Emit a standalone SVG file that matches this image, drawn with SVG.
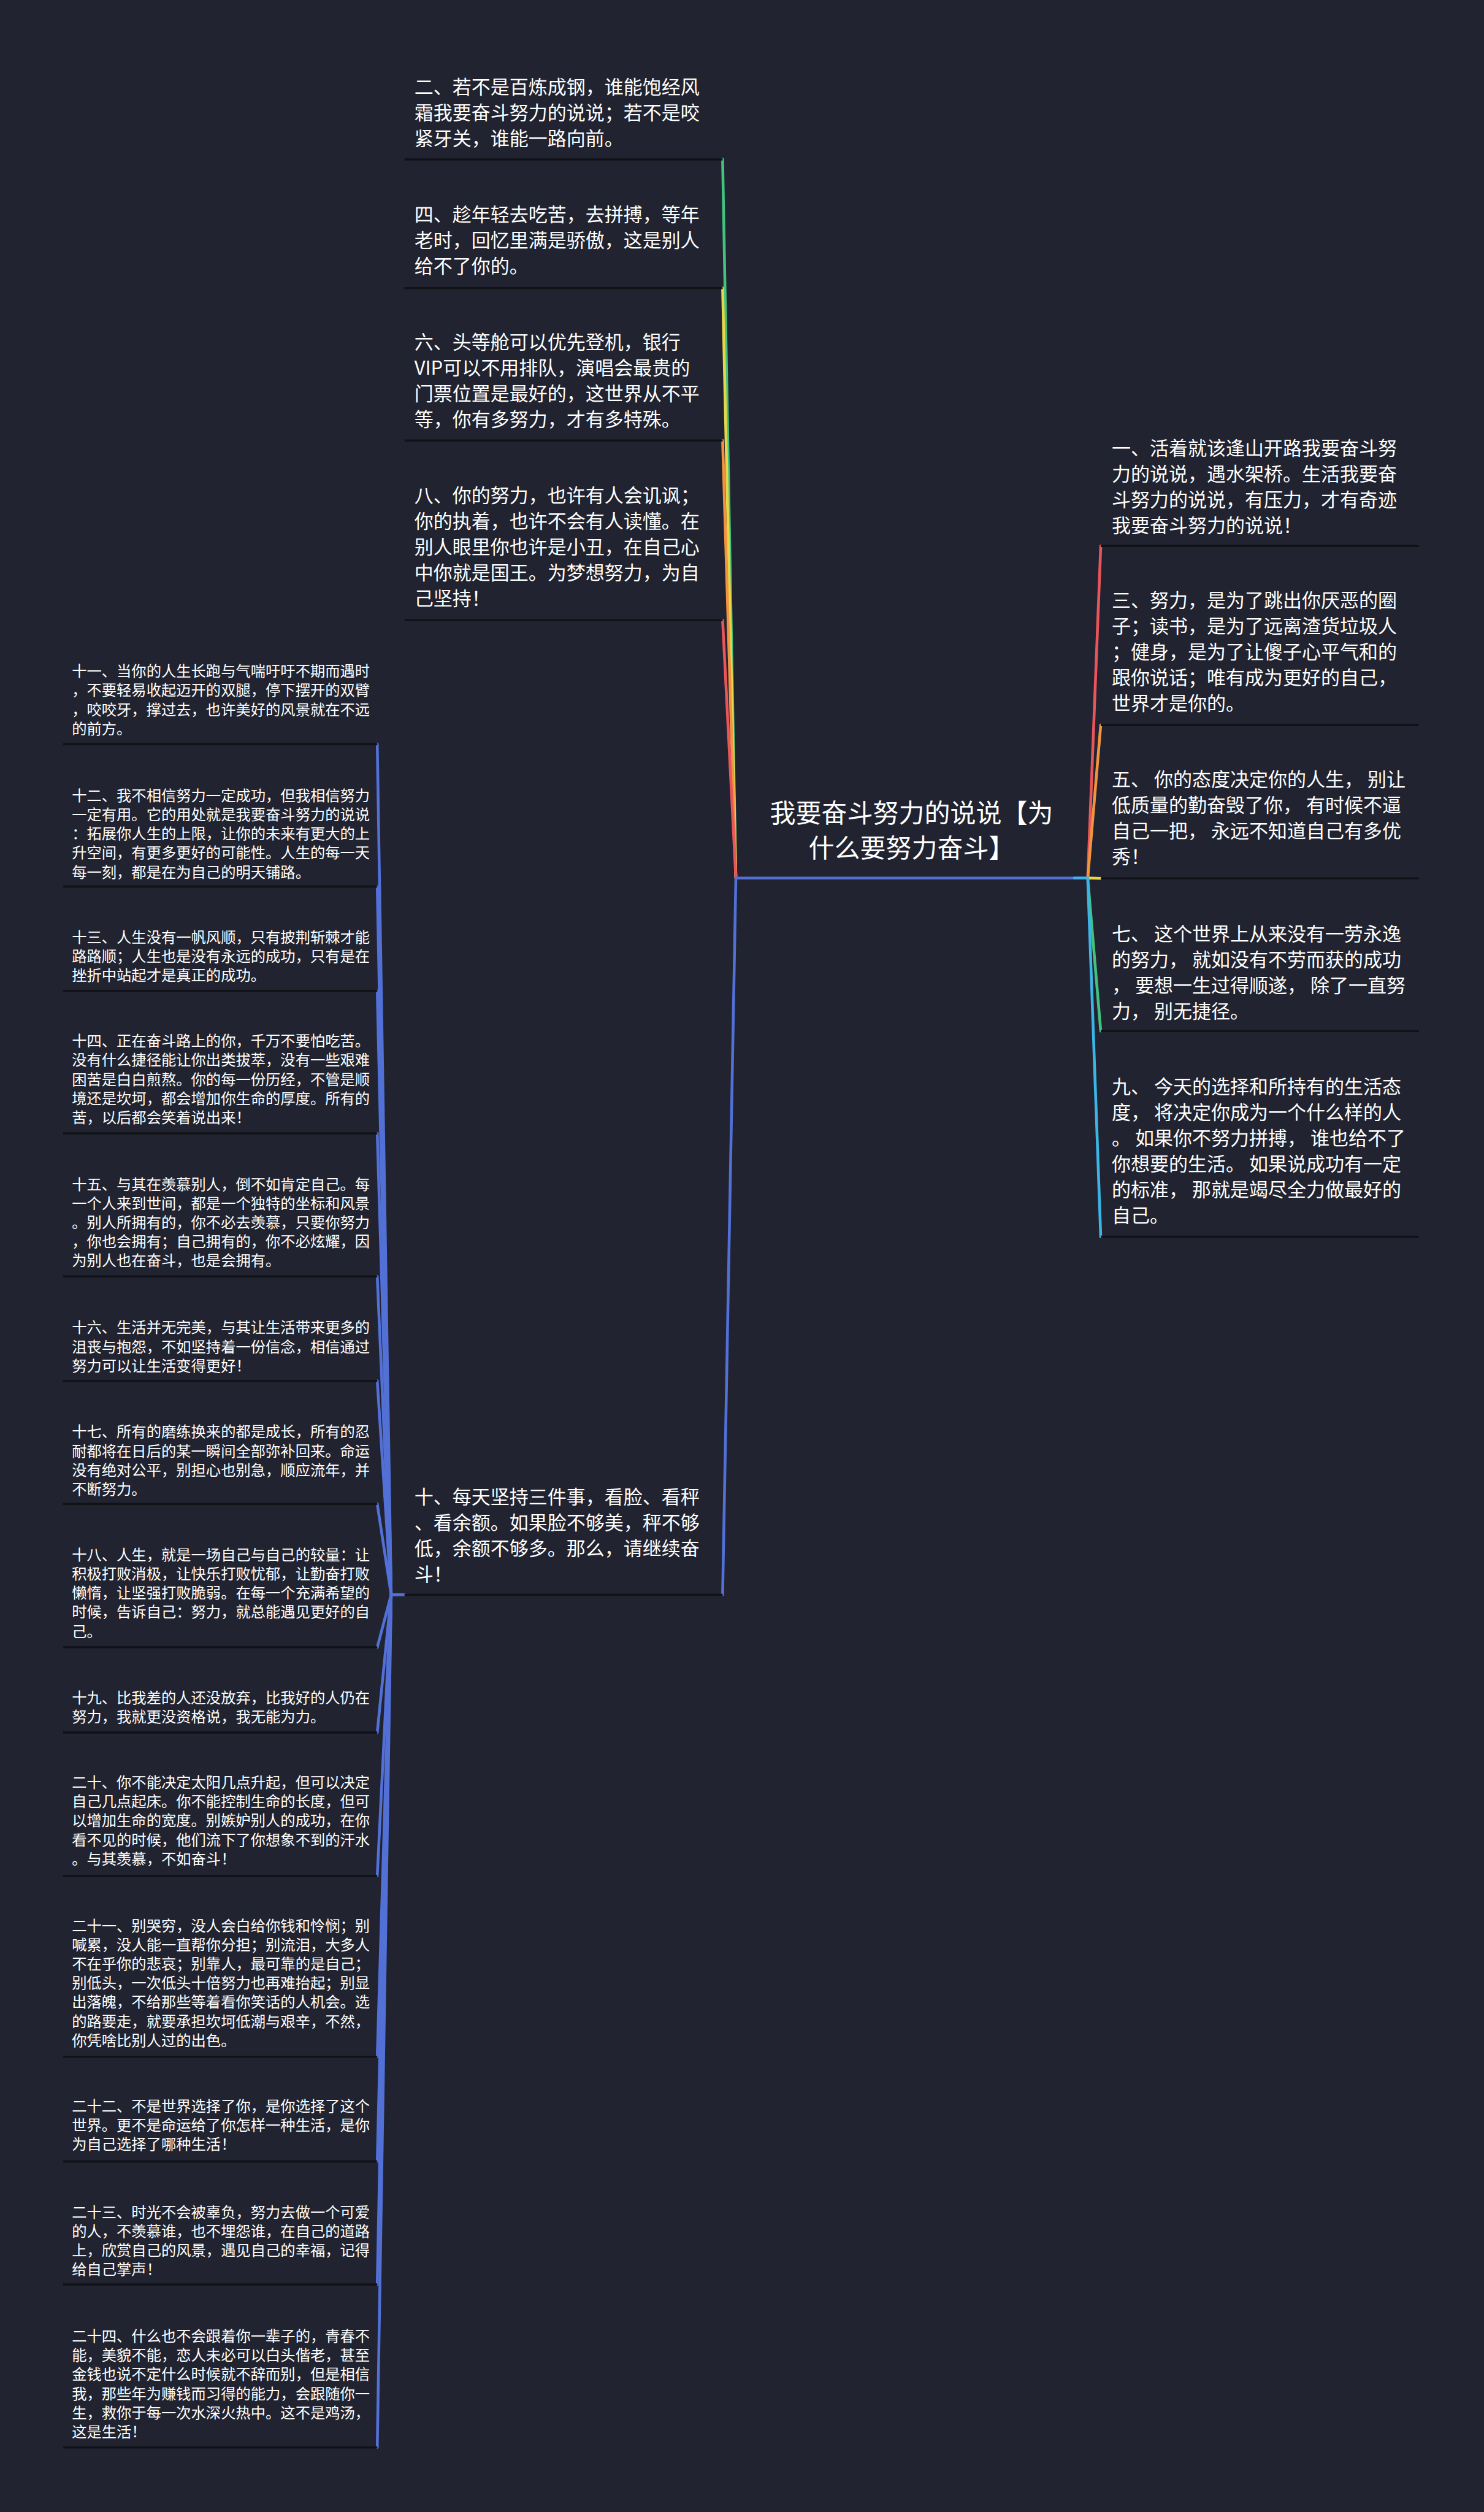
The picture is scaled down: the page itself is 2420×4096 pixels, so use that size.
<svg xmlns="http://www.w3.org/2000/svg" width="2420" height="4096" viewBox="0 0 2420 4096">
<style>
text{font-family:"Noto Sans CJK SC","Noto Sans",sans-serif;fill:#ffffff}
.r{font-size:42px}
.m{font-size:31px}
.s{font-size:24.3px}
.ul{stroke:#101217;stroke-width:3.5;fill:none}
.c{fill:none;stroke-width:4.6;stroke-linecap:round;stroke-linejoin:round}
.red{stroke:#e8555b}.org{stroke:#f2943f}.yel{stroke:#e8d64a}.grn{stroke:#42c27d}.cyn{stroke:#3db4e6}.blu{stroke:#5270d6}
</style>
<rect width="2420" height="4096" fill="#212430"/>

<g id="connectors">
<path class="c grn" d="M1200 1431.7 L1178.4 259.9"/>
<path class="c yel" d="M1200 1431.7 L1178.4 469.7"/>
<path class="c org" d="M1200 1431.7 L1178.4 718.2"/>
<path class="c red" d="M1200 1431.7 L1178.4 1011.2"/>
<path class="c blu" d="M1200 1431.7 L1178.4 2600.4"/>
<path class="c red" d="M1773.8 1431.7 L1795 890.2"/>
<path class="c org" d="M1773.8 1431.7 L1795 1182.2"/>
<path class="c yel" d="M1773.8 1431.7 L1795 1432.3"/>
<path class="c grn" d="M1773.8 1431.7 L1795 1681.2"/>
<path class="c cyn" d="M1773.8 1431.7 L1795 2016.6"/>
<g class="c blu">
<path d="M659.6 2600.4 H637.9 L615.2 1213.4"/>
<path d="M637.9 2600.4 L615.2 1445.5"/>
<path d="M637.9 2600.4 L615.2 1615.8"/>
<path d="M637.9 2600.4 L615.2 1848"/>
<path d="M637.9 2600.4 L615.2 2081.3"/>
<path d="M637.9 2600.4 L615.2 2251.7"/>
<path d="M637.9 2600.4 L615.2 2452.3"/>
<path d="M637.9 2600.4 L615.2 2686.1"/>
<path d="M637.9 2600.4 L615.2 2824.9"/>
<path d="M637.9 2600.4 L615.2 3058.7"/>
<path d="M637.9 2600.4 L615.2 3353.8"/>
<path d="M637.9 2600.4 L615.2 3524.5"/>
<path d="M637.9 2600.4 L615.2 3724.9"/>
<path d="M637.9 2600.4 L615.2 3990.7"/>
</g>
</g>

<g id="root">
<line class="c blu" x1="1200" y1="1431.7" x2="1773.8" y2="1431.7"/>
<line class="c cyn" x1="1752" y1="1431.7" x2="1773.8" y2="1431.7"/>
<text class="r" text-anchor="middle"><tspan x="1486.5" y="1340.8">我要奋斗努力的说说【为</tspan><tspan x="1486.5" y="1397.5">什么要努力奋斗】</tspan></text>
</g>

<g id="n2">
<line class="ul" x1="659.6" y1="259.9" x2="1178.4" y2="259.9"/>
<text class="m" x="675.7" y="153.1"><tspan x="675.7">二、若不是百炼成钢，谁能饱经风</tspan><tspan x="675.7" dy="42">霜我要奋斗努力的说说；若不是咬</tspan><tspan x="675.7" dy="42">紧牙关，谁能一路向前。</tspan></text>
</g>
<g id="n4">
<line class="ul" x1="659.6" y1="469.7" x2="1178.4" y2="469.7"/>
<text class="m" x="675.7" y="360.9"><tspan x="675.7">四、趁年轻去吃苦，去拼搏，等年</tspan><tspan x="675.7" dy="42">老时，回忆里满是骄傲，这是别人</tspan><tspan x="675.7" dy="42">给不了你的。</tspan></text>
</g>
<g id="n6">
<line class="ul" x1="659.6" y1="718.2" x2="1178.4" y2="718.2"/>
<text class="m" x="675.7" y="568.8"><tspan x="675.7">六、头等舱可以优先登机，银行</tspan><tspan x="675.7" dy="42">VIP可以不用排队，演唱会最贵的</tspan><tspan x="675.7" dy="42">门票位置是最好的，这世界从不平</tspan><tspan x="675.7" dy="42">等，你有多努力，才有多特殊。</tspan></text>
</g>
<g id="n8">
<line class="ul" x1="659.6" y1="1011.2" x2="1178.4" y2="1011.2"/>
<text class="m" x="675.7" y="819.2"><tspan x="675.7">八、你的努力，也许有人会讥讽；</tspan><tspan x="675.7" dy="42">你的执着，也许不会有人读懂。在</tspan><tspan x="675.7" dy="42">别人眼里你也许是小丑，在自己心</tspan><tspan x="675.7" dy="42">中你就是国王。为梦想努力，为自</tspan><tspan x="675.7" dy="42">己坚持！</tspan></text>
</g>
<g id="n10">
<line class="ul" x1="659.6" y1="2600.4" x2="1178.4" y2="2600.4"/>
<text class="m" x="675.7" y="2452.4"><tspan x="675.7">十、每天坚持三件事，看脸、看秤</tspan><tspan x="675.7" dy="42">、看余额。如果脸不够美，秤不够</tspan><tspan x="675.7" dy="42">低，余额不够多。那么，请继续奋</tspan><tspan x="675.7" dy="42">斗！</tspan></text>
</g>

<g id="n1">
<line class="ul" x1="1795" y1="890.2" x2="2314" y2="890.2"/>
<text class="m" x="1813" y="742.2"><tspan x="1813">一、活着就该逢山开路我要奋斗努</tspan><tspan x="1813" dy="42">力的说说，遇水架桥。生活我要奋</tspan><tspan x="1813" dy="42">斗努力的说说，有压力，才有奇迹</tspan><tspan x="1813" dy="42">我要奋斗努力的说说！</tspan></text>
</g>
<g id="n3">
<line class="ul" x1="1795" y1="1182.2" x2="2314" y2="1182.2"/>
<text class="m" x="1813" y="990.2"><tspan x="1813">三、努力，是为了跳出你厌恶的圈</tspan><tspan x="1813" dy="42">子；读书，是为了远离渣货垃圾人</tspan><tspan x="1813" dy="42">；健身，是为了让傻子心平气和的</tspan><tspan x="1813" dy="42">跟你说话；唯有成为更好的自己，</tspan><tspan x="1813" dy="42">世界才是你的。</tspan></text>
</g>
<g id="n5">
<line class="ul" x1="1795" y1="1432.3" x2="2314" y2="1432.3"/>
<text class="m" x="1813" y="1281.8"><tspan x="1813">五、 你的态度决定你的人生， 别让</tspan><tspan x="1813" dy="42">低质量的勤奋毁了你， 有时候不逼</tspan><tspan x="1813" dy="42">自己一把， 永远不知道自己有多优</tspan><tspan x="1813" dy="42">秀！</tspan></text>
</g>
<g id="n7">
<line class="ul" x1="1795" y1="1681.2" x2="2314" y2="1681.2"/>
<text class="m" x="1813" y="1533.6"><tspan x="1813">七、 这个世界上从来没有一劳永逸</tspan><tspan x="1813" dy="42">的努力， 就如没有不劳而获的成功</tspan><tspan x="1813" dy="42">， 要想一生过得顺遂， 除了一直努</tspan><tspan x="1813" dy="42">力， 别无捷径。</tspan></text>
</g>
<g id="n9">
<line class="ul" x1="1795" y1="2016.6" x2="2314" y2="2016.6"/>
<text class="m" x="1813" y="1783.1"><tspan x="1813">九、 今天的选择和所持有的生活态</tspan><tspan x="1813" dy="42">度， 将决定你成为一个什么样的人</tspan><tspan x="1813" dy="42">。 如果你不努力拼搏， 谁也给不了</tspan><tspan x="1813" dy="42">你想要的生活。 如果说成功有一定</tspan><tspan x="1813" dy="42">的标准， 那就是竭尽全力做最好的</tspan><tspan x="1813" dy="42">自己。</tspan></text>
</g>

<g id="n11">
<line class="ul" x1="103" y1="1213.4" x2="615.2" y2="1213.4"/>
<text class="s" x="117.2" y="1103.2"><tspan x="117.2">十一、当你的人生长跑与气喘吁吁不期而遇时</tspan><tspan x="117.2" dy="31.2">，不要轻易收起迈开的双腿，停下摆开的双臂</tspan><tspan x="117.2" dy="31.2">，咬咬牙，撑过去，也许美好的风景就在不远</tspan><tspan x="117.2" dy="31.2">的前方。</tspan></text>
</g>
<g id="n12">
<line class="ul" x1="103" y1="1445.5" x2="615.2" y2="1445.5"/>
<text class="s" x="117.2" y="1305.7"><tspan x="117.2">十二、我不相信努力一定成功，但我相信努力</tspan><tspan x="117.2" dy="31.2">一定有用。它的用处就是我要奋斗努力的说说</tspan><tspan x="117.2" dy="31.2">：拓展你人生的上限，让你的未来有更大的上</tspan><tspan x="117.2" dy="31.2">升空间，有更多更好的可能性。人生的每一天</tspan><tspan x="117.2" dy="31.2">每一刻，都是在为自己的明天铺路。</tspan></text>
</g>
<g id="n13">
<line class="ul" x1="103" y1="1615.8" x2="615.2" y2="1615.8"/>
<text class="s" x="117.2" y="1536.5"><tspan x="117.2">十三、人生没有一帆风顺，只有披荆斩棘才能</tspan><tspan x="117.2" dy="31.2">路路顺；人生也是没有永远的成功，只有是在</tspan><tspan x="117.2" dy="31.2">挫折中站起才是真正的成功。</tspan></text>
</g>
<g id="n14">
<line class="ul" x1="103" y1="1848" x2="615.2" y2="1848"/>
<text class="s" x="117.2" y="1706.2"><tspan x="117.2">十四、正在奋斗路上的你，千万不要怕吃苦。</tspan><tspan x="117.2" dy="31.2">没有什么捷径能让你出类拔萃，没有一些艰难</tspan><tspan x="117.2" dy="31.2">困苦是白白煎熬。你的每一份历经，不管是顺</tspan><tspan x="117.2" dy="31.2">境还是坎坷，都会增加你生命的厚度。所有的</tspan><tspan x="117.2" dy="31.2">苦，以后都会笑着说出来！</tspan></text>
</g>
<g id="n15">
<line class="ul" x1="103" y1="2081.3" x2="615.2" y2="2081.3"/>
<text class="s" x="117.2" y="1939.6"><tspan x="117.2">十五、与其在羡慕别人，倒不如肯定自己。每</tspan><tspan x="117.2" dy="31.2">一个人来到世间，都是一个独特的坐标和风景</tspan><tspan x="117.2" dy="31.2">。别人所拥有的，你不必去羡慕，只要你努力</tspan><tspan x="117.2" dy="31.2">，你也会拥有；自己拥有的，你不必炫耀，因</tspan><tspan x="117.2" dy="31.2">为别人也在奋斗，也是会拥有。</tspan></text>
</g>
<g id="n16">
<line class="ul" x1="103" y1="2251.7" x2="615.2" y2="2251.7"/>
<text class="s" x="117.2" y="2173.3"><tspan x="117.2">十六、生活并无完美，与其让生活带来更多的</tspan><tspan x="117.2" dy="31.2">沮丧与抱怨，不如坚持着一份信念，相信通过</tspan><tspan x="117.2" dy="31.2">努力可以让生活变得更好！</tspan></text>
</g>
<g id="n17">
<line class="ul" x1="103" y1="2452.3" x2="615.2" y2="2452.3"/>
<text class="s" x="117.2" y="2343.3"><tspan x="117.2">十七、所有的磨练换来的都是成长，所有的忍</tspan><tspan x="117.2" dy="31.2">耐都将在日后的某一瞬间全部弥补回来。命运</tspan><tspan x="117.2" dy="31.2">没有绝对公平，别担心也别急，顺应流年，并</tspan><tspan x="117.2" dy="31.2">不断努力。</tspan></text>
</g>
<g id="n18">
<line class="ul" x1="103" y1="2686.1" x2="615.2" y2="2686.1"/>
<text class="s" x="117.2" y="2543.7"><tspan x="117.2">十八、人生，就是一场自己与自己的较量：让</tspan><tspan x="117.2" dy="31.2">积极打败消极，让快乐打败忧郁，让勤奋打败</tspan><tspan x="117.2" dy="31.2">懒惰，让坚强打败脆弱。在每一个充满希望的</tspan><tspan x="117.2" dy="31.2">时候，告诉自己：努力，就总能遇见更好的自</tspan><tspan x="117.2" dy="31.2">己。</tspan></text>
</g>
<g id="n19">
<line class="ul" x1="103" y1="2824.9" x2="615.2" y2="2824.9"/>
<text class="s" x="117.2" y="2777.2"><tspan x="117.2">十九、比我差的人还没放弃，比我好的人仍在</tspan><tspan x="117.2" dy="31.2">努力，我就更没资格说，我无能为力。</tspan></text>
</g>
<g id="n20">
<line class="ul" x1="103" y1="3058.7" x2="615.2" y2="3058.7"/>
<text class="s" x="117.2" y="2915"><tspan x="117.2">二十、你不能决定太阳几点升起，但可以决定</tspan><tspan x="117.2" dy="31.2">自己几点起床。你不能控制生命的长度，但可</tspan><tspan x="117.2" dy="31.2">以增加生命的宽度。别嫉妒别人的成功，在你</tspan><tspan x="117.2" dy="31.2">看不见的时候，他们流下了你想象不到的汗水</tspan><tspan x="117.2" dy="31.2">。与其羡慕，不如奋斗！</tspan></text>
</g>
<g id="n21">
<line class="ul" x1="103" y1="3353.8" x2="615.2" y2="3353.8"/>
<text class="s" x="117.2" y="3148.5"><tspan x="117.2">二十一、别哭穷，没人会白给你钱和怜悯；别</tspan><tspan x="117.2" dy="31.2">喊累，没人能一直帮你分担；别流泪，大多人</tspan><tspan x="117.2" dy="31.2">不在乎你的悲哀；别靠人，最可靠的是自己；</tspan><tspan x="117.2" dy="31.2">别低头，一次低头十倍努力也再难抬起；别显</tspan><tspan x="117.2" dy="31.2">出落魄，不给那些等着看你笑话的人机会。选</tspan><tspan x="117.2" dy="31.2">的路要走，就要承担坎坷低潮与艰辛，不然，</tspan><tspan x="117.2" dy="31.2">你凭啥比别人过的出色。</tspan></text>
</g>
<g id="n22">
<line class="ul" x1="103" y1="3524.5" x2="615.2" y2="3524.5"/>
<text class="s" x="117.2" y="3442.5"><tspan x="117.2">二十二、不是世界选择了你，是你选择了这个</tspan><tspan x="117.2" dy="31.2">世界。更不是命运给了你怎样一种生活，是你</tspan><tspan x="117.2" dy="31.2">为自己选择了哪种生活！</tspan></text>
</g>
<g id="n23">
<line class="ul" x1="103" y1="3724.9" x2="615.2" y2="3724.9"/>
<text class="s" x="117.2" y="3615.5"><tspan x="117.2">二十三、时光不会被辜负，努力去做一个可爱</tspan><tspan x="117.2" dy="31.2">的人，不羡慕谁，也不埋怨谁，在自己的道路</tspan><tspan x="117.2" dy="31.2">上，欣赏自己的风景，遇见自己的幸福，记得</tspan><tspan x="117.2" dy="31.2">给自己掌声！</tspan></text>
</g>
<g id="n24">
<line class="ul" x1="103" y1="3990.7" x2="615.2" y2="3990.7"/>
<text class="s" x="117.2" y="3818"><tspan x="117.2">二十四、什么也不会跟着你一辈子的，青春不</tspan><tspan x="117.2" dy="31.2">能，美貌不能，恋人未必可以白头偕老，甚至</tspan><tspan x="117.2" dy="31.2">金钱也说不定什么时候就不辞而别，但是相信</tspan><tspan x="117.2" dy="31.2">我，那些年为赚钱而习得的能力，会跟随你一</tspan><tspan x="117.2" dy="31.2">生，救你于每一次水深火热中。这不是鸡汤，</tspan><tspan x="117.2" dy="31.2">这是生活！</tspan></text>
</g>
</svg>
